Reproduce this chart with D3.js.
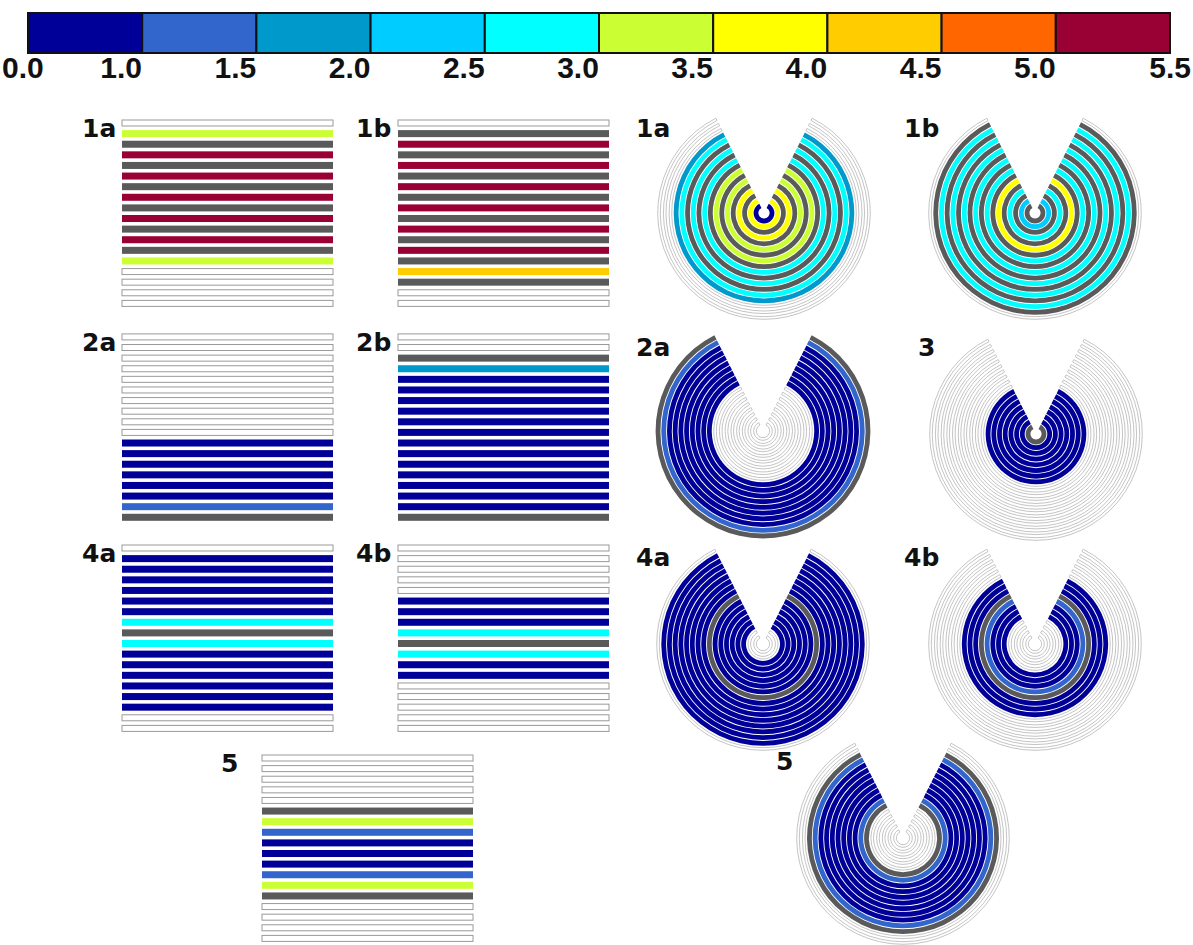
<!DOCTYPE html>
<html lang="en">
<head>
    <meta charset="UTF-8">
    <title>Layer stacks and ring diagrams</title>
    <script src="https://cdnjs.cloudflare.com/ajax/libs/d3/7.8.2/d3.min.js"></script>
    <style>
        body {
            margin: 0;
            background: #fff;
            font-family: "Liberation Sans", Arial, sans-serif;
        }
        .panel-label {
            font-family: "DejaVu Sans", sans-serif;
            font-size: 25px;
            font-weight: bold;
            fill: #111;
        }
        .legend-label {
            font-size: 30px;
            font-weight: bold;
            fill: #111;
        }
    </style>
</head>
<body>
    <div id="chart"></div>

    <script>
        // colour classes of the legend
        const legendTicks = ["0.0", "1.0", "1.5", "2.0", "2.5", "3.0", "3.5", "4.0", "4.5", "5.0", "5.5"];
        const legendColors = ["#000099", "#3366cc", "#0099cc", "#00ccff", "#00ffff",
                              "#ccff33", "#ffff00", "#ffcc00", "#ff6600", "#990033"];
        const grayColor = "#5a5a5a";

        // layer codes: -1 = empty, 0..9 = legend class, 10 = gray
        // bar stacks, top row first
        const bars1a = [-1, 5, 10, 9, 10, 9, 10, 9, 10, 9, 10, 9, 10, 5, -1, -1, -1, -1];
        const bars1b = [-1, 10, 9, 10, 9, 10, 9, 10, 9, 10, 9, 10, 9, 10, 7, 10, -1, -1];
        const bars2a = [-1, -1, -1, -1, -1, -1, -1, -1, -1, -1, 0, 0, 0, 0, 0, 0, 1, 10];
        const bars2b = [-1, -1, 10, 2, 0, 0, 0, 0, 0, 0, 0, 0, 0, 0, 0, 0, 0, 10];
        const bars4a = [-1, 0, 0, 0, 0, 0, 0, 4, 10, 4, 0, 0, 0, 0, 0, 0, -1, -1];
        const bars4b = [-1, -1, -1, -1, -1, 0, 0, 0, 4, 10, 4, 0, 0, -1, -1, -1, -1, -1];
        const bars5  = [-1, -1, -1, -1, -1, 10, 5, 1, 0, 0, 0, 1, 5, 10, -1, -1, -1, -1];

        // rings, innermost first
        const rings1a = [0, 6, 10, 6, 10, 5, 10, 5, 10, 4, 10, 4, 10, 4, 2, -1, -1, -1];
        const rings1b = [10, 3, 10, 4, 10, 6, 10, 4, 10, 4, 10, 4, 10, 4, 10, 4, 10, -1];
        const rings2a = [-1, -1, -1, -1, -1, -1, -1, -1, 0, 0, 0, 0, 0, 0, 0, 0, 1, 10];
        const rings3  = [10, 0, 0, 0, 0, 0, 0, 0, -1, -1, -1, -1, -1, -1, -1, -1, -1, -1];
        const rings4a = [-1, -1, 0, 0, 0, 0, 0, 0, 10, 0, 0, 0, 0, 0, 0, 0, 0, -1];
        const rings4b = [-1, -1, -1, -1, 0, 0, 0, 1, 10, 0, 0, 0, -1, -1, -1, -1, -1, -1];
        const rings5  = [-1, -1, -1, -1, -1, 10, 1, 0, 0, 0, 0, 0, 0, 0, 1, 10, -1, -1];

        const width = 1193;
        const height = 945;

        const svg = d3.select("#chart")
            .append("svg")
            .attr("width", width)
            .attr("height", height);

        const colorOf = code => code === 10 ? grayColor : legendColors[code];

        // ---- legend ----
        const legendX = d3.scaleLinear().domain([0, 10]).range([28, 1170]);

        svg.append("g")
            .selectAll("rect")
            .data(legendColors)
            .enter()
            .append("rect")
            .attr("x", (d, i) => legendX(i))
            .attr("y", 13)
            .attr("width", legendX(1) - legendX(0))
            .attr("height", 40)
            .attr("fill", d => d)
            .attr("stroke", "#111")
            .attr("stroke-width", 2);

        svg.append("g")
            .selectAll("text")
            .data(legendTicks)
            .enter()
            .append("text")
            .attr("class", "legend-label")
            .attr("x", (d, i) => i === 0 ? 2 : i === 10 ? 1191 : legendX(i) - 21)
            .attr("y", 78)
            .attr("text-anchor", (d, i) => i === 0 ? "start" : i === 10 ? "end" : "middle")
            .text(d => d);

        // ---- bar stacks ----
        const barPanels = [
            { name: "1a", rows: bars1a, x: 122, y: 117.7, lx: 82 },
            { name: "1b", rows: bars1b, x: 398, y: 117.7, lx: 356 },
            { name: "2a", rows: bars2a, x: 122, y: 331.6, lx: 82 },
            { name: "2b", rows: bars2b, x: 398, y: 331.6, lx: 356 },
            { name: "4a", rows: bars4a, x: 122, y: 542.7, lx: 82 },
            { name: "4b", rows: bars4b, x: 398, y: 542.7, lx: 356 },
            { name: "5",  rows: bars5,  x: 262, y: 752.7, lx: 221 }
        ];

        barPanels.forEach(p => {
            const g = svg.append("g");
            const xs = d3.scaleLinear().domain([0, 1]).range([p.x, p.x + 211]);
            const ys = d3.scaleBand()
                .domain(d3.range(p.rows.length))
                .range([p.y, p.y + 191])
                .paddingInner(0.34)
                .paddingOuter(0.17);

            g.selectAll("rect")
                .data(p.rows)
                .enter()
                .append("rect")
                .attr("x", xs(0))
                .attr("width", xs(1) - xs(0))
                .attr("y", (d, i) => d < 0 ? ys(i) + 0.5 : ys(i))
                .attr("height", d => d < 0 ? ys.bandwidth() - 1 : ys.bandwidth())
                .attr("fill", d => d < 0 ? "#fff" : colorOf(d))
                .attr("stroke", d => d < 0 ? "#9a9a9a" : "none")
                .attr("stroke-width", 1);

            g.append("text")
                .attr("class", "panel-label")
                .attr("x", p.lx)
                .attr("y", p.y + 19)
                .text(p.name);
        });

        // ---- ring diagrams ----
        const ringPanels = [
            { name: "1a", rings: rings1a, cx: 764, cy: 213, lx: 636, ly: 137 },
            { name: "1b", rings: rings1b, cx: 1035, cy: 213, lx: 904, ly: 137 },
            { name: "2a", rings: rings2a, cx: 763, cy: 431, lx: 636, ly: 356 },
            { name: "3",  rings: rings3,  cx: 1036, cy: 434, lx: 918, ly: 356 },
            { name: "4a", rings: rings4a, cx: 763, cy: 644, lx: 636, ly: 566 },
            { name: "4b", rings: rings4b, cx: 1035, cy: 644, lx: 904, ly: 566 },
            { name: "5",  rings: rings5,  cx: 903, cy: 838, lx: 776, ly: 770 }
        ];

        const gapAngle = 0.47; // half opening of the wedge, radians
        const radius = d3.scaleLinear().domain([0, 17]).range([8, 105]);

        ringPanels.forEach(p => {
            const g = svg.append("g")
                .attr("transform", `translate(${p.cx}, ${p.cy})`);

            const arc = d3.arc()
                .innerRadius((d, i) => radius(i) - (d < 0 ? 1.3 : 2.4))
                .outerRadius((d, i) => radius(i) + (d < 0 ? 1.3 : 2.4))
                .startAngle(gapAngle)
                .endAngle(2 * Math.PI - gapAngle);

            g.selectAll("path")
                .data(p.rings)
                .enter()
                .append("path")
                .attr("d", (d, i) => arc(d, i))
                .attr("fill", d => d < 0 ? "#fff" : colorOf(d))
                .attr("stroke", d => d < 0 ? "#bdbdbd" : "none")
                .attr("stroke-width", 0.9);

            svg.append("text")
                .attr("class", "panel-label")
                .attr("x", p.lx)
                .attr("y", p.ly)
                .text(p.name);
        });
    </script>
</body>
</html>
